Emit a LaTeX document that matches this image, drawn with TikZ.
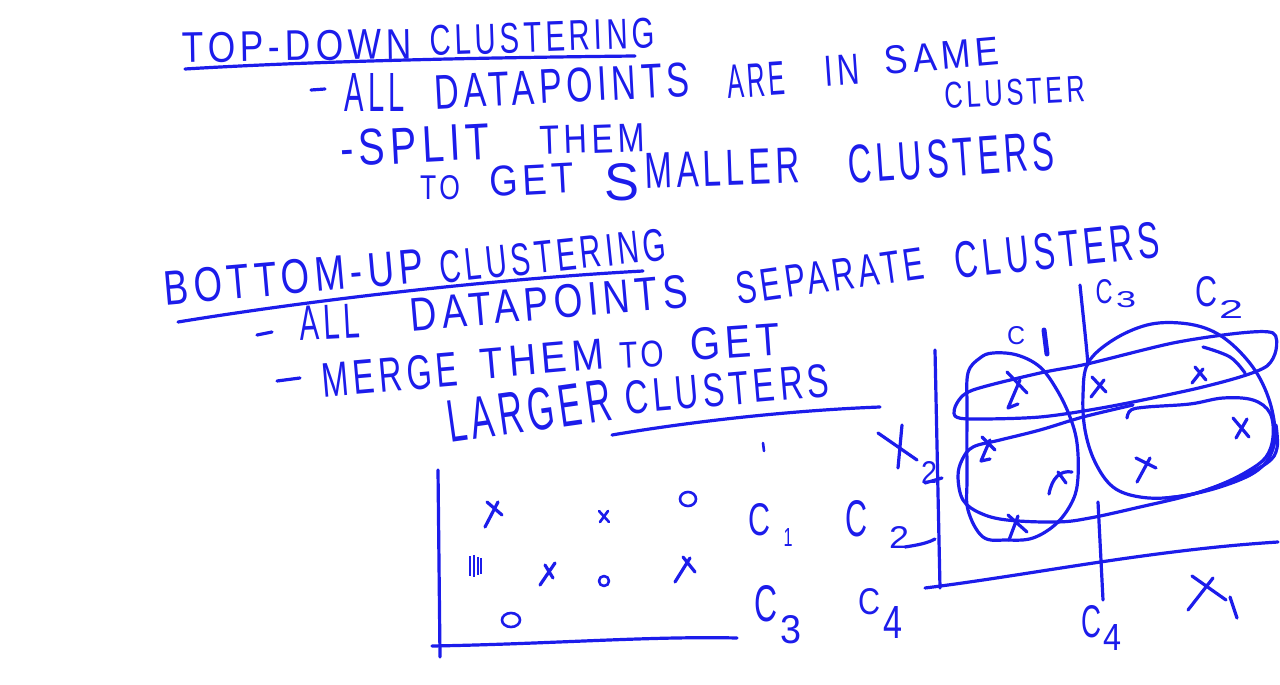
\documentclass[tikz,border=0pt]{standalone}
\usepackage{fontspec}
\setmainfont{Liberation Sans}[LetterSpace=14]
\usepackage{graphicx}
\definecolor{hb}{RGB}{28,28,235}
\newcommand{\hw}[3]{\resizebox{#1pt}{#2pt}{#3}}
\begin{document}
\begin{tikzpicture}[x=1pt,y=-1pt,
  hw/.style={inner sep=0pt,outer sep=0pt,text=hb},
  pen/.style={draw=hb,line width=3.2pt,line cap=round,line join=round},
  thinpen/.style={draw=hb,line width=2.6pt,line cap=round,line join=round}]
\fill[white] (0,0) rectangle (1280,685);
\useasboundingbox (0,0) rectangle (1280,685);

% ---------- TOP-DOWN ----------
\node[hw,rotate=1] (td1) at (297,46) {\hw{230}{30}{TOP-DOWN}};
\node[hw,rotate=2] (td2) at (542,37) {\hw{225}{30}{CLUSTERING}};
\draw[pen] (185,69) .. controls (300,62) and (450,58) .. (635,56);
\draw[pen] (311,90) -- (325,89);
\node[hw] (a1) at (375,92) {\hw{60}{38}{ALL}};
\node[hw,rotate=3] (a2) at (562,86) {\hw{255}{34}{DATAPOINTS}};
\node[hw,rotate=4] (a3) at (756,80) {\hw{58}{33}{ARE}};
\node[hw,rotate=4] (a4) at (842,70) {\hw{35}{30}{IN}};
\node[hw,rotate=5] (a5) at (942,56) {\hw{115}{28}{SAME}};
\node[hw,rotate=3] (a6) at (1015,92) {\hw{140}{26}{CLUSTER}};
\node[hw,rotate=3] (s1) at (415,145) {\hw{150}{36}{-SPLIT}};
\node[hw,rotate=2] (s2) at (592,139) {\hw{105}{28}{THEM}};
\node[hw] (s3) at (440,188) {\hw{40}{24}{TO}};
\node[hw,rotate=3] (s4) at (532,180) {\hw{85}{30}{GET}};
\node[hw] (s5) at (622,182) {\hw{35}{37}{S}};
\node[hw,rotate=2] (s6) at (722,168) {\hw{155}{35}{MALLER}};
\node[hw,rotate=4] (s7) at (951,158) {\hw{207}{38}{CLUSTERS}};

% ---------- BOTTOM-UP ----------
\node[hw,rotate=5] (bu1) at (294,277) {\hw{260}{34}{BOTTOM-UP}};
\node[hw,rotate=6] (bu2) at (553,256) {\hw{227}{32}{CLUSTERING}};
\draw[pen] (178,322) .. controls (300,302) and (480,280) .. (643,271);
\draw[pen] (257,335) -- (272,332);
\node[hw,rotate=3] (b1) at (330,322) {\hw{60}{34}{ALL}};
\node[hw,rotate=5] (b2) at (549,303) {\hw{278}{33}{DATAPOINTS}};
\node[hw,rotate=8] (b3) at (830,276) {\hw{190}{32}{SEPARATE}};
\node[hw,rotate=6] (b4) at (1057,250) {\hw{205}{36}{CLUSTERS}};
\draw[pen] (277,381) -- (300,378);
\node[hw,rotate=5] (m1) at (390,375) {\hw{136}{34}{MERGE}};
\node[hw,rotate=5] (m2) at (542,359) {\hw{124}{30}{THEM}};
\node[hw,rotate=3] (m3) at (642,355) {\hw{45}{26}{TO}};
\node[hw,rotate=4] (m4) at (735,342) {\hw{90}{32}{GET}};
\node[hw,rotate=8] (m5) at (529,411) {\hw{165}{42}{LARGER}};
\node[hw,rotate=5] (m6) at (727,389) {\hw{205}{33}{CLUSTERS}};
\draw[pen] (612,435) .. controls (700,420) and (800,410) .. (880,407);

% ---------- left plot ----------
\draw[pen] (438,470) -- (440,657);
\draw[pen] (432,646) .. controls (550,644) and (650,636) .. (737,638);
\draw[thinpen] (763,443) -- (764,451);
\draw[pen] (487,502) -- (502,515) (498,502) -- (485,527);
\draw[thinpen] (599,511) -- (609,522) (608,511) -- (600,522);
\draw[thinpen] (688,499) ellipse [x radius=8, y radius=7];
\draw[line width=2.4pt,hb] (470,556) -- (470,576) (474,555) -- (474,577) (478,557) -- (478,575) (481,558) -- (481,574);
\draw[pen] (545,565) -- (553,578) (555,563) -- (540,585);
\draw[thinpen] (604,581) circle [radius=5];
\draw[pen] (683,557) -- (695,572) (690,558) -- (675,582);
\draw[thinpen] (511,620) ellipse [x radius=9, y radius=7];
\node[hw] (c1) at (759,520) {\hw{22}{32}{C}};
\node[hw] (c1s) at (788,537) {\hw{9}{18}{1}};
\node[hw] (c2) at (856,519) {\hw{22}{36}{C}};
\node[hw] (c2s) at (899,537) {\hw{20}{22}{2}};
\draw[pen] (905,547) .. controls (918,545) and (928,543) .. (935,539);
\node[hw] (c3) at (766,604) {\hw{23}{36}{C}};
\node[hw] (c3s) at (791,630) {\hw{21}{28}{3}};
\node[hw] (c4) at (869,602) {\hw{22}{26}{C}};
\node[hw] (c4s) at (893,622) {\hw{19}{32}{4}};

% ---------- X2 label ----------
\draw[pen] (878,433) -- (917,460) (902,425) -- (898,468);
\node[hw] (x2s) at (929,472) {\hw{16}{22}{2}};
\draw[pen] (925,483) -- (942,478);

% ---------- right plot axes ----------
\draw[pen] (935,350) -- (940,588);
\draw[pen] (925,588) .. controls (1030,575) and (1150,550) .. (1278,542);
\draw[pen] (1192,576) -- (1226,600) (1213,578) -- (1188,610);
\draw[pen] (1230,597) -- (1237,618);
\draw[pen] (1080,285) .. controls (1083,315) and (1086,340) .. (1088,365);
\draw[pen] (1098,502) -- (1103,600);

% labels
\node[hw] (r3) at (1104,292) {\hw{17}{24}{C}};
\node[hw] (r3s) at (1126,300) {\hw{20}{16}{3}};
\node[hw] (r2) at (1206,292) {\hw{22}{30}{C}};
\node[hw] (r2s) at (1231,309) {\hw{24}{18}{2}};
\node[hw] (r1) at (1016,336) {\hw{18}{18}{C}};
\draw[line width=5pt,hb,line cap=round] (1044,330) -- (1047,354);
\node[hw] (r4) at (1091,622) {\hw{20}{32}{C}};
\node[hw] (r4s) at (1112,637) {\hw{18}{26}{4}};

% clusters
\draw[pen] plot[smooth cycle, tension=0.6] coordinates {(980,358) (993,353) (1017,355) (1040,367) (1057,390) (1070,417) (1077,443) (1078,477) (1073,500) (1057,523) (1033,538) (1007,540) (983,537) (968,510) (967,477) (967,410) (968,373)};
\draw[pen] plot[smooth cycle, tension=0.6] coordinates {(1113,340) (1147,325) (1180,323) (1210,330) (1235,347) (1258,375) (1272,410) (1274,445) (1258,470) (1220,487) (1175,497) (1140,497) (1113,487) (1095,462) (1085,430) (1083,395) (1088,363)};
\draw[pen] plot[smooth cycle, tension=0.5] coordinates {(957,403) (973,390) (1040,373) (1087,364) (1173,343) (1240,333) (1273,333) (1276,350) (1267,366) (1240,377) (1190,390) (1107,407) (1040,417) (973,419) (955,416)};
\draw[pen] plot[smooth, tension=0.6] coordinates {(1203,347) (1230,357) (1245,373)};
\draw[pen] plot[smooth, tension=0.6] coordinates {(1127,418) (1131,410) (1147,407) (1190,404) (1223,398) (1253,400) (1270,413) (1273,437) (1266,457) (1248,471) (1222,484) (1193,494) (1165,498)};
\draw[pen] plot[smooth, tension=0.6] coordinates {(1133,405) (1083,417) (1040,430) (1000,440) (973,447) (962,460) (958,477) (963,500) (980,513) (1007,520) (1057,522) (1090,518) (1140,507) (1190,495) (1233,480) (1267,463) (1277,448) (1276,425)};

% points
\draw[pen] (1007,372) -- (1027,393) (1020,380) -- (1008,408) -- (1018,404);
\draw[pen] (1092,377) -- (1106,392) (1104,380) -- (1091,397);
\draw[pen] (1195,367) -- (1206,380) (1203,369) -- (1192,383);
\draw[pen] (1233,418) -- (1249,437) (1247,419) -- (1236,438);
\draw[pen] (982,437) -- (995,450) (990,440) -- (981,461) -- (990,459);
\draw[pen] (1072,472) .. controls (1060,470) and (1052,478) .. (1049,494) (1058,472) -- (1066,483);
\draw[pen] (1136,458) -- (1156,468) (1150,458) -- (1137,482);
\draw[pen] (1008,515) -- (1027,532) (1018,516) -- (1009,540);
\end{tikzpicture}
\end{document}
